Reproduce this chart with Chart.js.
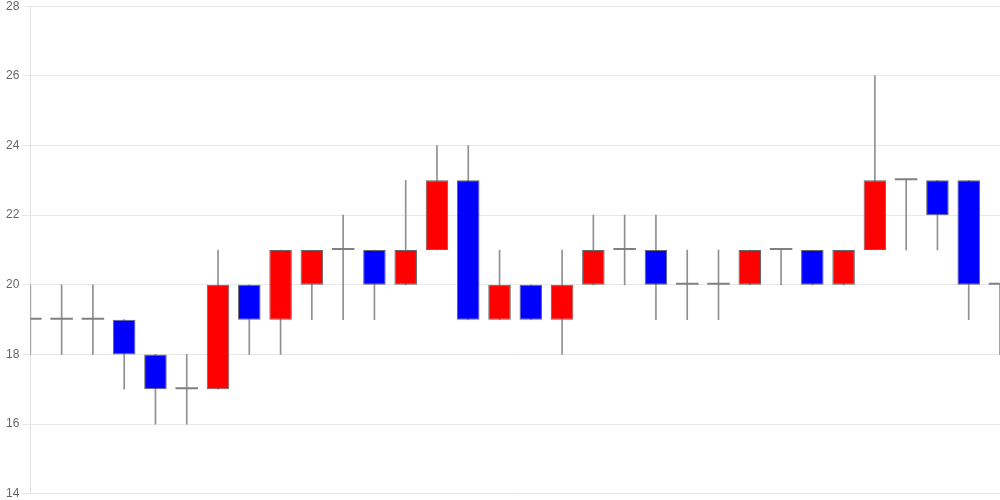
<!DOCTYPE html>
<html>
<head>
<meta charset="utf-8">
<script src="https://cdn.jsdelivr.net/npm/chart.js@4/dist/chart.umd.min.js"></script>
<style>
  body { margin: 0; background: #fff; }
  #wrap { width: 1000px; height: 500px; }
</style>
</head>
<body>
<div id="wrap"><canvas id="chart"></canvas></div>
<script>
// 캔들 데이터 (시가, 종가, 고가, 저가)
const labels = Array.from({length: 32}, (_, i) => String(i + 1));
const openValues  = [19, 19, 19, 19, 18, 17, 17, 20, 19, 20, 21, 21, 20, 21, 23, 19, 20, 19, 20, 21, 21, 20, 20, 20, 21, 21, 20, 21, 23, 23, 23, 20];
const closeValues = [19, 19, 19, 18, 17, 17, 20, 19, 21, 21, 21, 20, 21, 23, 19, 20, 19, 20, 21, 21, 20, 20, 20, 21, 21, 20, 21, 23, 23, 22, 20, 20];
const highValues  = [20, 20, 20, 19, 18, 18, 21, 20, 21, 21, 22, 21, 23, 24, 24, 21, 20, 21, 22, 22, 22, 21, 21, 21, 21, 21, 21, 26, 23, 23, 23, 20];
const lowValues   = [18, 18, 18, 17, 16, 16, 17, 18, 18, 19, 19, 19, 20, 21, 19, 19, 19, 18, 20, 20, 19, 19, 19, 20, 20, 20, 20, 21, 21, 21, 19, 18];
const yTicks = [14, 16, 18, 20, 22, 24, 26, 28];

// 상승 빨강, 하락 파랑, 보합 회색
const bodyColors = openValues.map((o, i) => {
    if (closeValues[i] > o) return '#ff0000';
    if (closeValues[i] < o) return '#0000ff';
    return '#808080';
});
const bodyBorders = openValues.map((o, i) => closeValues[i] === o ? 0 : 1);

new Chart(document.getElementById('chart'), {
    type: 'bar',
    data: {
        labels: labels,
        datasets: [
            {
                // 몸통
                data: openValues.map((o, i) => [o, closeValues[i]]),
                backgroundColor: bodyColors,
                borderColor: '#666666',
                borderWidth: bodyBorders,
                borderSkipped: false,
                minBarLength: 2,
                grouped: false,
                clip: 0,
                order: 1
            },
            {
                // 꼬리
                data: lowValues.map((l, i) => [l, highValues[i]]),
                backgroundColor: '#909090',
                borderWidth: 0,
                barThickness: 1,
                grouped: false,
                clip: 0,
                order: 2
            }
        ]
    },
    options: {
        responsive: true,
        maintainAspectRatio: false,
        animation: false,
        layout: { padding: { left: 3 } },
        plugins: {
            legend: { display: false },
            tooltip: { enabled: false }
        },
        scales: {
            x: {
                display: false,
                offset: false
            },
            y: {
                min: yTicks[0],
                max: yTicks[yTicks.length - 1],
                afterBuildTicks: axis => {
                    axis.ticks = yTicks.map(v => ({ value: v }));
                },
                ticks: { color: '#666', font: { size: 12, lineHeight: 0.55 } },
                grid: { color: '#e8e8e8' },
                border: { color: '#e0e0e0' }
            }
        }
    }
});
</script>
</body>
</html>
